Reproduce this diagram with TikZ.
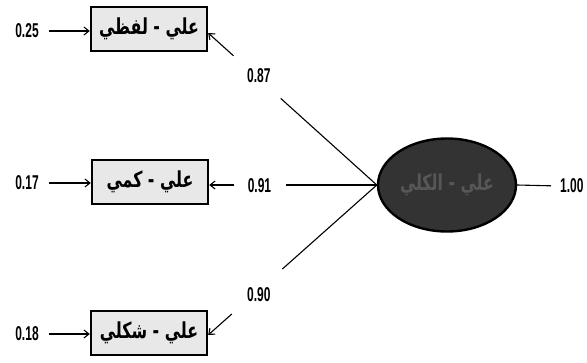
\documentclass[tikz,border=0pt]{standalone}
\usepackage{fontspec}
\usetikzlibrary{arrows.meta,calc,shapes.geometric}
\TeXXeTstate=1
\newfontfamily\arabicfont[Script=Arabic,FakeStretch=0.72]{DejaVu Sans}
\newfontfamily\numfont[FakeStretch=0.6]{Liberation Sans}
\tikzset{
  obsbox/.style={draw, line width=2.4pt, fill=gray!18, minimum width=116pt, minimum height=44pt, inner sep=0pt,
    font=\arabicfont\bfseries\fontsize{22}{22}\selectfont},
  latent/.style={ellipse, draw, line width=2.4pt, fill=black!80, minimum width=138pt, minimum height=93pt, inner sep=0pt,
    font=\arabicfont\bfseries\fontsize{22}{22}\selectfont, text=black!66},
  numlbl/.style={font=\numfont\bfseries\fontsize{20}{20}\selectfont, inner sep=1pt},
  arr/.style={line width=1.1pt, -{Straight Barb[length=5pt,width=8pt]}},
  conn/.style={line width=1.1pt}
}
\begin{document}
\begin{tikzpicture}[x=1pt,y=-1pt]
\useasboundingbox (0,0) rectangle (587,362);
% observed boxes
\node[obsbox] (b1) at (149,29) {\beginR علي - لفظي\endR};
\node[obsbox] (b2) at (150,182) {\beginR علي - كمي\endR};
\node[obsbox] (b3) at (149,333) {\beginR علي - شكلي\endR};
% latent
\node[latent] (lat) at (447,185) {\beginR علي - الكلي\endR};
% error terms
\node[numlbl] (e1) at (27,31) {0.25};
\node[numlbl] (e2) at (27,183) {0.17};
\node[numlbl] (e3) at (27,334) {0.18};
\draw[arr, shorten <=9pt] (e1) -- (e1 -| b1.west);
\draw[arr, shorten <=9pt] (e2) -- (e2 -| b2.west);
\draw[arr, shorten <=9pt] (e3) -- (e3 -| b3.west);
% targets on boxes
\coordinate (t1) at ([yshift=-4pt]b1.east);
\coordinate (t2) at (b2.east |- lat.west);
\coordinate (t3) at ([yshift=-2pt]b3.east);
% loadings
\node[numlbl] (l1) at ($(lat.west)!0.70!(t1)+(0,-3)$) {0.87};
\node[numlbl] (l2) at ($(lat.west)!0.70!(t2)+(0,1)$) {0.91};
\node[numlbl] (l3) at ($(lat.west)!0.70!(t3)+(0,5)$) {0.90};
\draw[conn] (lat.west) -- ($(lat.west)!0.57!(t1)$);
\draw[arr] ($(lat.west)!0.85!(t1)$) -- (t1);
\draw[conn] (lat.west) -- ($(lat.west)!0.54!(t2)$);
\draw[arr] ($(lat.west)!0.85!(t2)$) -- (t2);
\draw[conn] (lat.west) -- ($(lat.west)!0.56!(t3)$);
\draw[arr] ($(lat.west)!0.86!(t3)$) -- (t3);
% right
\node[numlbl, anchor=west] (r) at (559,186) {1.00};
\draw[conn, shorten >=8pt] (lat.east) -- (r.west);
\end{tikzpicture}
\end{document}
